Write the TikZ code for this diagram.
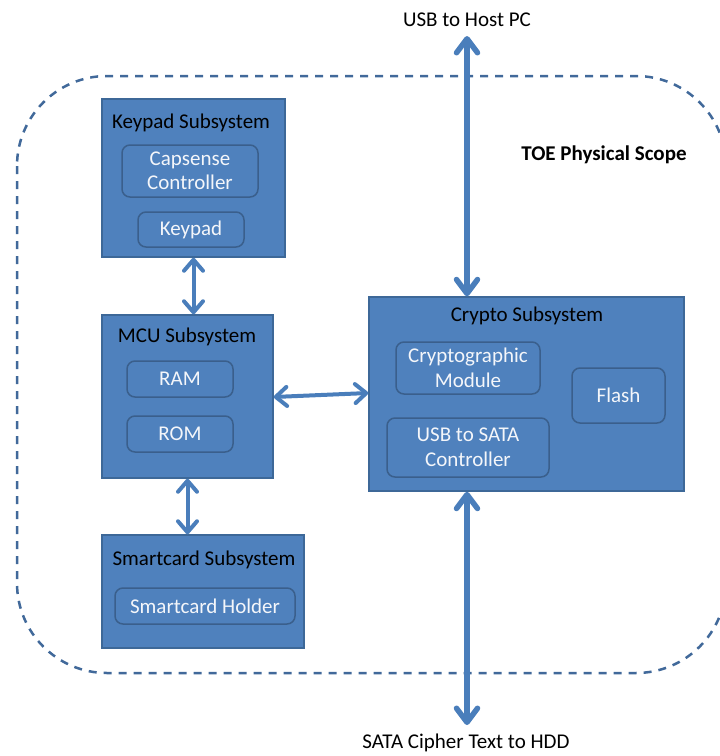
\documentclass[tikz,border=0pt]{standalone}
\usepackage{fontspec}
\setmainfont{Carlito}
\usetikzlibrary{arrows.meta}
\definecolor{boxfill}{HTML}{4F81BD}
\definecolor{boxline}{HTML}{3D6898}
\definecolor{innerline}{HTML}{3A5F8C}
\definecolor{dashcol}{HTML}{41699A}
\definecolor{arrowcol}{HTML}{4A7EBB}
\definecolor{innertext}{HTML}{F4F6FA}
\tikzset{
  outer/.style={draw=boxline, fill=boxfill, line width=1.5pt, inner sep=0pt},
  inner/.style={draw=innerline, fill=boxfill, line width=1.5pt, rounded corners=8pt,
    inner sep=0pt, text=innertext, align=center, font=\fontsize{21}{24.5}\selectfont},
  title/.style={inner sep=0pt, text=black, font=\fontsize{21}{24}\selectfont},
  lbl/.style={inner sep=0pt, text=black, font=\fontsize{21}{24}\selectfont},
  barb/.style={Straight Barb[length=11pt,width=19pt,line join=round,line cap=round]},
  bigbarb/.style={Straight Barb[length=14pt,width=21pt,line join=round,line cap=round]},
  smallarrow/.style={draw=arrowcol, line width=4pt, line cap=round, line join=round,
    {Straight Barb[length=11pt,width=19pt,line join=round,line cap=round]}-{Straight Barb[length=11pt,width=19pt,line join=round,line cap=round]}},
  bigarrow/.style={draw=arrowcol, line width=5.5pt, line cap=round, line join=round,
    {Straight Barb[length=14pt,width=21pt,line join=round,line cap=round]}-{Straight Barb[length=14pt,width=21pt,line join=round,line cap=round]}},
  scope/.style={draw=dashcol, line width=2.5pt, dash pattern=on 8pt off 7pt, rounded corners=90pt},
}
\begin{document}
\begin{tikzpicture}[x=1pt,y=-1pt]
\useasboundingbox (0,0) rectangle (720,756);
\begin{scope}
\clip (0,0) rectangle (720,756);
\draw[scope] (17,76) rectangle (726,673);
\end{scope}
\node[lbl, font=\fontsize{21}{24}\selectfont\bfseries] (toe) at (604,155) {TOE Physical Scope};

% Keypad subsystem
\node[outer, minimum width=183pt, minimum height=158pt] (keypad) at (193.5,178) {};
\node[title] (keypadt) at (191,123) {Keypad Subsystem};
\node[inner, minimum width=136pt, minimum height=52pt] (capsense) at (190,171) {Capsense\\Controller};
\node[inner, minimum width=106pt, minimum height=35pt] (keypadin) at (191,229.5) {Keypad};

% MCU subsystem
\node[outer, minimum width=171pt, minimum height=163pt] (mcu) at (187.5,396.5) {};
\node[title] (mcut) at (187,337) {MCU Subsystem};
\node[inner, minimum width=106pt, minimum height=36pt] (ram) at (180,379) {RAM};
\node[inner, minimum width=106pt, minimum height=36pt] (rom) at (180,434) {ROM};

% Smartcard subsystem
\node[outer, minimum width=202pt, minimum height=113pt] (smart) at (203,591.5) {};
\node[title] (smartt) at (204,560) {Smartcard Subsystem};
\node[inner, minimum width=180pt, minimum height=36pt] (holder) at (205,606) {Smartcard Holder};

% Crypto subsystem
\node[outer, minimum width=315pt, minimum height=194pt] (crypto) at (526.5,394) {};
\node[title] (cryptot) at (527,316) {Crypto Subsystem};
\node[inner, minimum width=144pt, minimum height=52pt] (cmod) at (468,368) {Cryptographic\\Module};
\node[inner, minimum width=93pt, minimum height=55pt] (flash) at (618.5,395.5) {Flash};
\node[inner, minimum width=162pt, minimum height=59pt] (usbsata) at (468,447.5) {USB to SATA\\Controller};

% external labels
\node[lbl] (host) at (467,20) {USB to Host PC};
\node[lbl] (hdd) at (466,743) {SATA Cipher Text to HDD};
\coordinate (hosttip) at (467,36);
\coordinate (hddtip) at (467,725);

% connectors
\draw[smallarrow] (keypad.south -| 193.5,0) -- (mcu.north -| 193.5,0);
\draw[smallarrow] (mcu.south) -- (smart.north -| mcu.south);
\draw[smallarrow] (mcu.east |- 0,397) -- (crypto.west |- 0,393);
\draw[bigarrow] (crypto.north -| hosttip) -- (hosttip);
\draw[bigarrow] (crypto.south -| hddtip) -- (hddtip);
\end{tikzpicture}
\end{document}
